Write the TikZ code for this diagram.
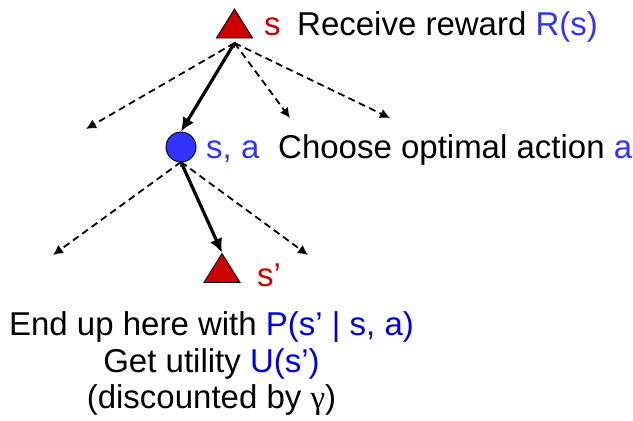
\documentclass[tikz,border=0pt]{standalone}
\usepackage{fontspec}
\setmainfont{Liberation Sans}
\newfontfamily\serifgr{Liberation Serif}
\usetikzlibrary{arrows.meta,shapes.geometric}
\definecolor{sred}{RGB}{204,0,0}
\definecolor{sblue}{RGB}{51,51,255}
\definecolor{tblue}{RGB}{0,0,230}
\tikzset{
  stree/.style={isosceles triangle, isosceles triangle apex angle=64, shape border rotate=90, fill=sred, draw=black, line width=0.9pt, inner sep=0pt, minimum height=29pt},
  dashar/.style={dash pattern=on 7pt off 4.5pt, line width=1.8pt, -{Latex[length=10pt,width=10pt]}},
  thickar/.style={line width=3.2pt, {Latex[length=6pt,width=6pt]}-{Latex[length=14pt,width=13pt]}, shorten <=-2pt},
  lbl/.style={font=\fontsize{33}{38}\selectfont, inner sep=0pt, anchor=base west},
}
\begin{document}
\begin{tikzpicture}[x=1pt,y=-1pt]
\useasboundingbox (0,0) rectangle (633,421);
% top triangle
\node[stree] (s) at (234.5,28) {};
\coordinate (sb) at (234.5,43);
\coordinate (t1) at (86,129);
\coordinate (t2) at (290,118);
\coordinate (t3) at (390,118);
% circle
\node[circle, fill=sblue, draw=black, line width=0.9pt, minimum size=30pt, inner sep=0pt] (c) at (181,147) {};
\coordinate (cb) at (181,162);
\coordinate (u1) at (53,255);
\coordinate (u2) at (308,255);
% bottom triangle
\node[stree] (sp) at (222,272.5) {};
\draw[dashar] (sb) -- (t1);
\draw[dashar] (sb) -- (t2);
\draw[dashar] (sb) -- (t3);
\draw[thickar] (sb) -- (c.north);
\draw[dashar] (cb) -- (u1);
\draw[dashar] (cb) -- (u2);
\draw[thickar] (cb) -- (sp.apex);
% labels
\node[lbl, text=sred] (ls) at (264,35) {s};
\node[lbl] (lr) at (297,35) {Receive reward \textcolor{sblue}{R(s)}};
\node[lbl, text=sblue] (lsa) at (206,158) {s, a};
\node[lbl] (lc) at (278,158) {Choose optimal action \textcolor{sblue}{a}};
\node[lbl, text=sred] (lsp) at (257,286) {s’};
\node[lbl, anchor=base] (b1) at (211.5,335) {End up here with \textcolor{tblue}{P(s’ | s, a)}};
\node[lbl, anchor=base] (b2) at (211.5,372) {Get utility \textcolor{tblue}{U(s’)}};
\node[lbl, anchor=base] (b3) at (211.5,408) {(discounted by {\serifgr γ})};
\end{tikzpicture}
\end{document}
